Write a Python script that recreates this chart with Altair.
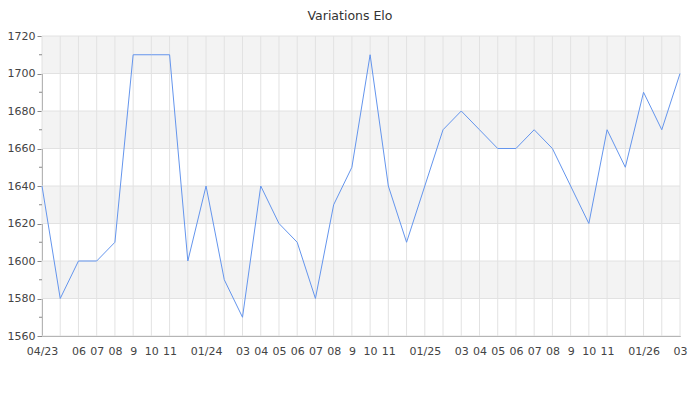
import altair as alt
import pandas as pd

# Month tick labels (empty where the reference hides the label)
tick_labels = ["04/23", "", "06", "07", "08", "9", "10", "11", "", "01/24", "", "03",
               "04", "05", "06", "07", "08", "9", "10", "11", "", "01/25", "", "03",
               "04", "05", "06", "07", "08", "9", "10", "11", "", "01/26", "", "03"]
elo = [1640, 1580, 1600, 1600, 1610, 1710, 1710, 1710, 1600, 1640, 1590, 1570,
       1640, 1620, 1610, 1580, 1630, 1650, 1710, 1640, 1610, 1640, 1670, 1680,
       1670, 1660, 1660, 1670, 1660, 1640, 1620, 1670, 1650, 1690, 1670, 1700]
y_ticks = [1560, 1580, 1600, 1620, 1640, 1660, 1680, 1700, 1720]
y_minor = [1570, 1590, 1610, 1630, 1650, 1670, 1690, 1710]

n = len(elo)
idx = list(range(n))
df = pd.DataFrame({"i": idx, "elo": elo})

# alternating shaded bands between major ticks
band_lo = [y_ticks[k] for k in range(1, len(y_ticks) - 1, 2)]
band_hi = [y_ticks[k + 1] for k in range(1, len(y_ticks) - 1, 2)]
bands = pd.DataFrame({
    "y": band_lo,
    "y2": band_hi,
    "x": [0] * len(band_lo),
    "x2": [n - 1] * len(band_lo),
})

xscale = alt.Scale(domain=[0, n - 1], nice=False, zero=False)
yscale = alt.Scale(domain=[y_ticks[0], y_ticks[-1]], nice=False, zero=False)

label_arr = "[" + ",".join('"%s"' % s for s in tick_labels) + "]"

xaxis = alt.Axis(values=idx, labelExpr=label_arr + "[datum.value]", grid=False,
                 ticks=False, labelPadding=9, labelFontSize=11, labelColor="#444444",
                 labelFont="DejaVu Sans", domainColor="#888888", labelOverlap=False,
                 labelFlush=False, title=None)
yaxis = alt.Axis(values=y_ticks, format="d", grid=False, tickSize=5, tickColor="#888888",
                 domainColor="#888888", labelPadding=2, labelFontSize=11,
                 labelColor="#444444", labelFont="DejaVu Sans", labelOverlap=False,
                 labelFlush=False, title=None)

X = lambda f: alt.X(f, scale=xscale, axis=xaxis)
Y = lambda f: alt.Y(f, scale=yscale, axis=yaxis)

band_layer = alt.Chart(bands).mark_rect(color="#f3f3f3").encode(
    x=X("x:Q"), x2="x2:Q", y=Y("y:Q"), y2="y2:Q",
)

vgrid = alt.Chart(pd.DataFrame({"i": idx})).mark_rule(color="#e2e2e2", strokeWidth=1).encode(
    x=X("i:Q"),
)
hgrid = alt.Chart(pd.DataFrame({"y": y_ticks})).mark_rule(color="#e2e2e2", strokeWidth=1).encode(
    y=Y("y:Q"),
)
minor = alt.Chart(pd.DataFrame({"y": y_minor})).mark_rule(color="#888888", strokeWidth=1).encode(
    y=Y("y:Q"),
    x=alt.value(-3),
    x2=alt.value(0),
)

line = alt.Chart(df).mark_line(color="#6495ED", strokeWidth=1).encode(
    x=X("i:Q"),
    y=Y("elo:Q"),
)

chart = alt.layer(band_layer, vgrid, hgrid, minor, line).properties(
    width=638,
    height=300,
    title=alt.TitleParams("Variations Elo", fontSize=12.5, fontWeight="normal",
                          color="#333333", font="DejaVu Sans", dx=-11, offset=8),
    autosize=alt.AutoSizeParams(type="none"),
    padding={"left": 34, "top": 28, "right": 12, "bottom": 40},
).configure_view(stroke=None)

chart.save("out.html", embed_options={"renderer": "svg", "actions": False})
